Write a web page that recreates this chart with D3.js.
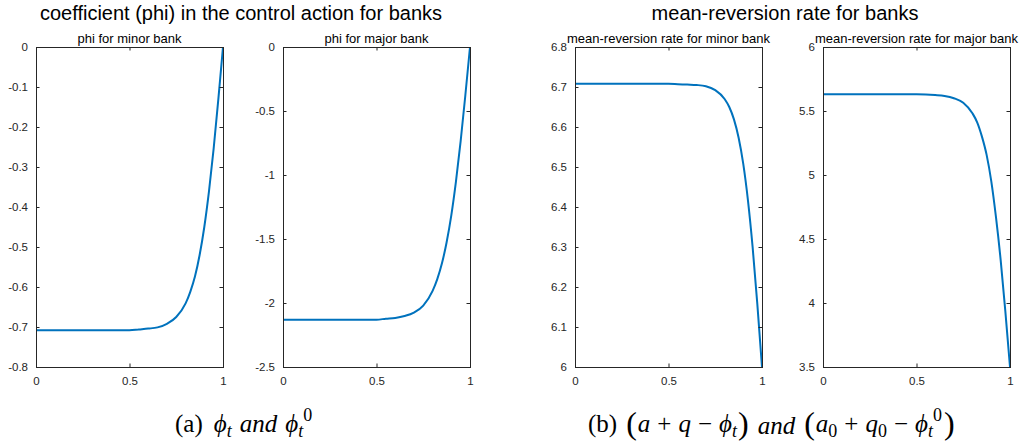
<!DOCTYPE html>
<html>
<head>
<meta charset="utf-8">
<script src="https://cdn.jsdelivr.net/npm/d3@7"></script>
<style>
  html, body { margin: 0; padding: 0; background: #fff; }
  svg { display: block; }
</style>
</head>
<body>
<svg id="chart" width="1028" height="448"></svg>
<script>
// Time grid on [0, 1] and the sampled solutions
const tGrid = [0, 0.1, 0.2, 0.3, 0.4, 0.5, 0.55, 0.6, 0.65, 0.7, 0.75, 0.8, 0.825, 0.85, 0.875, 0.9, 0.925, 0.95, 0.975, 1];

const phiMinor = [-0.708, -0.708, -0.708, -0.708, -0.708, -0.708, -0.706, -0.704, -0.701, -0.692, -0.675, -0.641, -0.612, -0.574, -0.520, -0.450, -0.361, -0.254, -0.131, 0];
const phiMajor = [-2.13, -2.13, -2.13, -2.13, -2.13, -2.13, -2.123, -2.117, -2.102, -2.075, -2.02, -1.905, -1.813, -1.69, -1.525, -1.315, -1.05, -0.735, -0.379, 0];
const mrMinor = [6.708, 6.708, 6.708, 6.708, 6.708, 6.708, 6.707, 6.706, 6.705, 6.702, 6.692, 6.670, 6.650, 6.619, 6.573, 6.507, 6.416, 6.299, 6.157, 6.0];
const mrMajor = [5.63, 5.63, 5.63, 5.63, 5.63, 5.63, 5.629, 5.625, 5.618, 5.60, 5.564, 5.48, 5.41, 5.30, 5.157, 4.95, 4.67, 4.337, 3.936, 3.5];

// Axis ticks and labels
const xTicks = [0, 0.5, 1];
const xTickLabels = ["0", "0.5", "1"];
const phiMinorTicks = [0, -0.1, -0.2, -0.3, -0.4, -0.5, -0.6, -0.7, -0.8];
const phiMinorLabels = ["0", "-0.1", "-0.2", "-0.3", "-0.4", "-0.5", "-0.6", "-0.7", "-0.8"];
const phiMajorTicks = [0, -0.5, -1, -1.5, -2, -2.5];
const phiMajorLabels = ["0", "-0.5", "-1", "-1.5", "-2", "-2.5"];
const mrMinorTicks = [6, 6.1, 6.2, 6.3, 6.4, 6.5, 6.6, 6.7, 6.8];
const mrMinorLabels = ["6", "6.1", "6.2", "6.3", "6.4", "6.5", "6.6", "6.7", "6.8"];
const mrMajorTicks = [3.5, 4, 4.5, 5, 5.5, 6];
const mrMajorLabels = ["3.5", "4", "4.5", "5", "5.5", "6"];

// Titles
const groupTitles = ["coefficient (phi) in the control action for banks", "mean-reversion rate for banks"];
const panelTitles = ["phi for minor bank", "phi for major bank", "mean-reversion rate for minor bank", "mean-reversion rate for major bank"];

const svg = d3.select("#chart");
const SANS = "'Liberation Sans', Arial, Helvetica, sans-serif";
const SERIF = "'Liberation Serif', 'Times New Roman', serif";
const AXIS_COLOR = "#262626";
const LINE_COLOR = "#0072BD";

const panels = [
  { left: 36,  values: phiMinor, domain: [-0.8, 0], ticks: phiMinorTicks, labels: phiMinorLabels, title: panelTitles[0] },
  { left: 283, values: phiMajor, domain: [-2.5, 0], ticks: phiMajorTicks, labels: phiMajorLabels, title: panelTitles[1] },
  { left: 575, values: mrMinor,  domain: [6, 6.8],  ticks: mrMinorTicks,  labels: mrMinorLabels,  title: panelTitles[2] },
  { left: 823, values: mrMajor,  domain: [3.5, 6],  ticks: mrMajorTicks,  labels: mrMajorLabels,  title: panelTitles[3] }
];
const PW = 187, TOP = 47, BOTTOM = 367;

panels.forEach(p => {
  const x = d3.scaleLinear().domain([0, 1]).range([p.left, p.left + PW]);
  const y = d3.scaleLinear().domain(p.domain).range([BOTTOM, TOP]);
  const g = svg.append("g");

  // data line
  const line = d3.line()
    .x((d, i) => x(tGrid[i]))
    .y(d => y(d))
    .curve(d3.curveMonotoneX);
  g.append("path")
    .datum(p.values)
    .attr("d", line)
    .attr("fill", "none")
    .attr("stroke", LINE_COLOR)
    .attr("stroke-width", 2)
    .attr("stroke-linejoin", "round");

  const fmtX = v => xTickLabels[xTicks.indexOf(v)];
  const fmtY = v => p.labels[p.ticks.indexOf(v)];

  const styleAxis = (sel, withText) => {
    sel.select(".domain").remove();
    sel.selectAll(".tick line").attr("stroke", AXIS_COLOR).attr("stroke-width", 1);
    if (withText) {
      sel.selectAll(".tick text")
        .attr("fill", AXIS_COLOR)
        .style("font-family", SANS)
        .style("font-size", "11.5px");
    } else {
      sel.selectAll(".tick text").remove();
    }
  };

  g.append("g").attr("transform", `translate(0,${BOTTOM})`)
    .call(d3.axisBottom(x).tickValues(xTicks).tickFormat(fmtX).tickSize(-3.5).tickPadding(10))
    .call(s => styleAxis(s, true));
  g.append("g").attr("transform", `translate(0,${TOP})`)
    .call(d3.axisTop(x).tickValues(xTicks).tickSize(-3.5))
    .call(s => styleAxis(s, false));
  g.append("g").attr("transform", `translate(${p.left},0)`)
    .call(d3.axisLeft(y).tickValues(p.ticks).tickFormat(fmtY).tickSize(-3.5).tickPadding(8))
    .call(s => styleAxis(s, true));
  g.append("g").attr("transform", `translate(${p.left + PW},0)`)
    .call(d3.axisRight(y).tickValues(p.ticks).tickSize(-3.5))
    .call(s => styleAxis(s, false));

  // axes box
  g.append("rect")
    .attr("x", p.left + 0.5).attr("y", TOP + 0.5)
    .attr("width", PW).attr("height", BOTTOM - TOP)
    .attr("fill", "none")
    .attr("stroke", AXIS_COLOR)
    .attr("stroke-width", 1);

  g.append("text")
    .attr("x", p.left + PW / 2).attr("y", 43)
    .attr("text-anchor", "middle")
    .style("font-family", SANS).style("font-size", "13px")
    .attr("fill", "#000")
    .text(p.title);
});

// group headings
svg.append("text").attr("x", 241).attr("y", 20).attr("text-anchor", "middle")
  .style("font-family", SANS).style("font-size", "20px").attr("fill", "#000")
  .text(groupTitles[0]);
svg.append("text").attr("x", 785).attr("y", 20).attr("text-anchor", "middle")
  .style("font-family", SANS).style("font-size", "20px").attr("fill", "#000")
  .text(groupTitles[1]);

// captions built from runs: [text, style, dx, dy, size]
const SUB = 18, BIG = 32;
function caption(x0, baseline, runs) {
  const t = svg.append("text")
    .attr("x", x0).attr("y", baseline)
    .attr("text-anchor", "start")
    .style("font-family", SERIF).style("font-size", "25px")
    .attr("fill", "#000");
  runs.forEach(r => {
    const s = t.append("tspan").text(r[0]);
    if (r[1] === "i") s.style("font-style", "italic");
    if (r[2]) s.attr("dx", r[2]);
    if (r[3]) s.attr("dy", r[3]);
    if (r[4]) s.style("font-size", r[4] + "px");
  });
}

caption(175, 432, [
  ["(a)", "n"],
  ["\u03D5", "i", 11], ["t", "i", 0, 5, SUB],
  ["and", "i", 8, -5],
  ["\u03D5", "i", 8], ["t", "i", 0, 5, SUB], ["0", "n", 0, -16, SUB]
]);

caption(588, 432, [
  ["(b)", "n"],
  ["(", "n", 9, 2, BIG],
  ["a", "i", 1, -2], ["+", "n", 7], ["q", "i", 7], ["\u2212", "n", 7],
  ["\u03D5", "i", 7], ["t", "i", 0, 5, SUB],
  [")", "n", 1, -3, BIG],
  ["and", "i", 9, 0],
  ["(", "n", 9, 0, BIG],
  ["a", "i", 1, -2], ["0", "n", 0, 5, SUB], ["+", "n", 7, -5], ["q", "i", 7], ["0", "n", 0, 5, SUB], ["\u2212", "n", 7, -5],
  ["\u03D5", "i", 7], ["t", "i", 0, 5, SUB], ["0", "n", 0, -16, SUB],
  [")", "n", 2, 13, BIG]
]);
</script>
</body>
</html>
